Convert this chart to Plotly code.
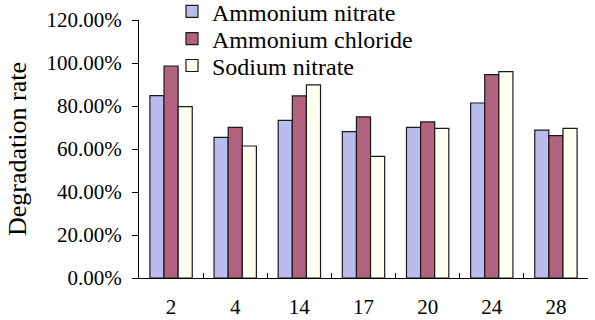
import plotly.graph_objects as go

categories = ["2", "4", "14", "17", "20", "24", "28"]
ammonium_nitrate = [0.848, 0.654, 0.733, 0.681, 0.701, 0.814, 0.688]
ammonium_chloride = [0.986, 0.701, 0.847, 0.749, 0.726, 0.946, 0.662]
sodium_nitrate = [0.797, 0.614, 0.898, 0.566, 0.696, 0.960, 0.696]
series_names = ["Ammonium nitrate", "Ammonium chloride", "Sodium nitrate"]
colors = ["#BBBBEE", "#B0627E", "#FFFFF2"]
legend_ids = ["legend", "legend2", "legend3"]
legend_y = [0.963, 0.878, 0.794]

FONT = "'Liberation Serif', 'Times New Roman', serif"

fig = go.Figure()
for name, vals, col, lid in zip(series_names, [ammonium_nitrate, ammonium_chloride, sodium_nitrate], colors, legend_ids):
    fig.add_trace(go.Bar(
        x=categories, y=vals, name=name, legend=lid,
        marker=dict(color=col, line=dict(color="#1a1a1a", width=1.2)),
    ))

def leg(y):
    return dict(
        x=0.0735, xref="paper", y=y, yref="container",
        xanchor="left", yanchor="middle",
        font=dict(family=FONT, size=24, color="black"),
        bgcolor="rgba(0,0,0,0)", itemwidth=30,
    )

fig.update_layout(
    width=595, height=320,
    margin=dict(l=139, r=7, t=20, b=42, autoexpand=False),
    paper_bgcolor="white", plot_bgcolor="white",
    barmode="group", bargap=0.34, bargroupgap=0,
    font=dict(family=FONT, size=21, color="black"),
    showlegend=True,
    legend=leg(legend_y[0]),
    legend2=leg(legend_y[1]),
    legend3=leg(legend_y[2]),
    xaxis=dict(
        type="category", showline=True, linecolor="black", linewidth=1,
        ticks="inside", tickson="boundaries", ticklen=5, tickcolor="black",
        showgrid=False, tickfont=dict(family=FONT, size=21),
        ticklabelstandoff=10,
    ),
    yaxis=dict(
        range=[0, 1.2], dtick=0.2, tickformat=".2%",
        showline=True, linecolor="black", linewidth=1,
        ticks="outside", ticklen=6, tickcolor="black",
        showgrid=False, zeroline=False, tickfont=dict(family=FONT, size=21),
        ticklabelstandoff=6,
        title=dict(text="Degradation rate", font=dict(family=FONT, size=26), standoff=12),
    ),
)

fig.write_html("out.html")
